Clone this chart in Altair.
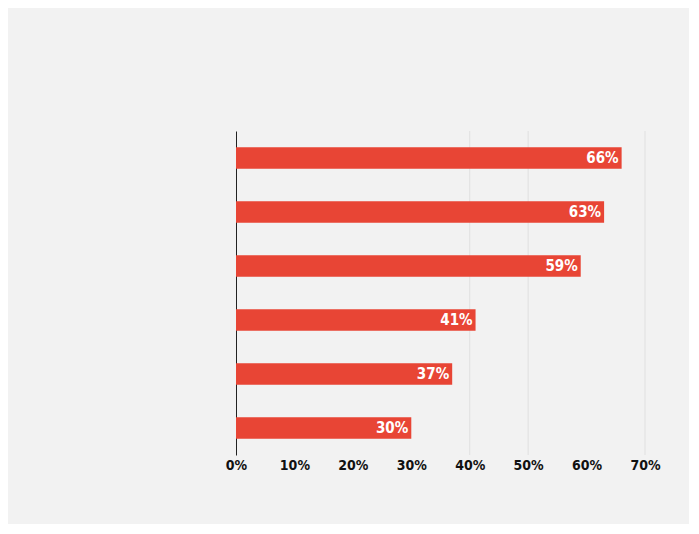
import altair as alt
import pandas as pd

categories = ["Item 1", "Item 2", "Item 3", "Item 4", "Item 5", "Item 6"]
values = [66, 63, 59, 41, 37, 30]
tick_values = [0, 10, 20, 30, 40, 50, 60, 70]
grid_lines = [40, 50, 70]

FONT = "Liberation Sans Narrow, DejaVu Sans Condensed, Arial Narrow, sans-serif"
BAR = "#e84535"

df = pd.DataFrame({"category": categories, "value": values})
grid_df = pd.DataFrame({"g": grid_lines})

x_scale = alt.Scale(domain=[0, 70], nice=False)
y_scale = alt.Scale(domain=categories, paddingInner=0.6, paddingOuter=0.3)

grid = alt.Chart(grid_df).mark_rule(color="#e0e0e0", strokeWidth=1).encode(
    x=alt.X("g:Q", scale=x_scale)
)

bars = alt.Chart(df).mark_bar(color=BAR).encode(
    x=alt.X(
        "value:Q",
        scale=x_scale,
        axis=alt.Axis(
            values=tick_values,
            labelExpr="datum.value + '%'",
            title=None,
            grid=False,
            ticks=False,
            domain=False,
            labelFlush=False,
            labelFont=FONT,
            labelFontSize=14,
            labelFontWeight="bold",
            labelColor="#111111",
            labelPadding=3,
        ),
    ),
    y=alt.Y(
        "category:N",
        scale=y_scale,
        sort=categories,
        axis=alt.Axis(
            labels=False,
            ticks=False,
            title=None,
            domain=True,
            domainColor="#222222",
            domainWidth=1,
        ),
    ),
)

labels = alt.Chart(df).transform_calculate(
    label="datum.value + '%'"
).mark_text(
    align="right",
    baseline="middle",
    dx=-3,
    color="white",
    font=FONT,
    fontSize=15,
    fontWeight="bold",
).encode(
    x=alt.X("value:Q", scale=x_scale),
    y=alt.Y("category:N", scale=y_scale, sort=categories),
    text="label:N",
)

chart = (
    alt.layer(grid, bars, labels)
    .properties(
        width=409,
        height=324,
        background="#f2f2f2",
        padding={"left": 217, "top": 122, "right": 28, "bottom": 52},
    )
    .configure_view(stroke=None)
)

chart.save("out.html", embed_options={"renderer": "svg", "actions": False})
